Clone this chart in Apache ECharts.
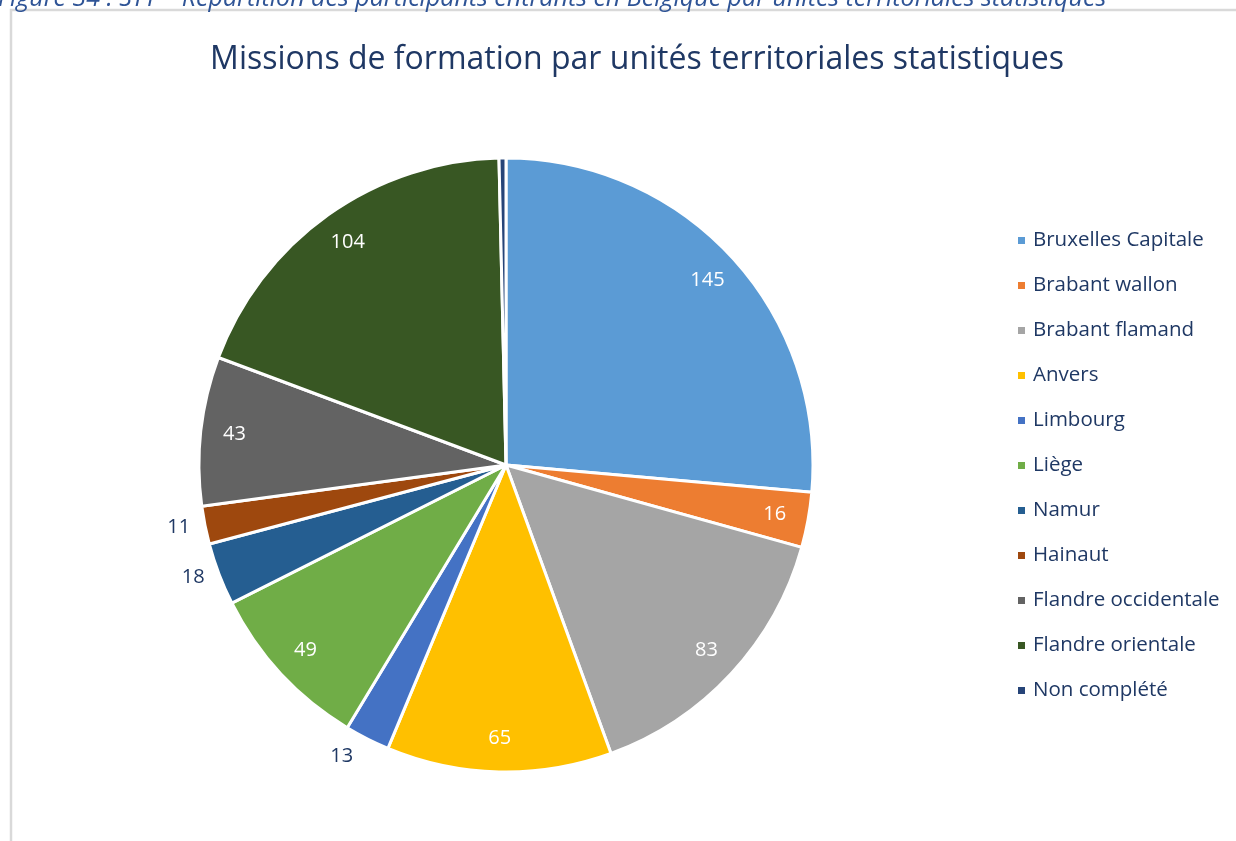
<!DOCTYPE html>
<html>
<head>
<meta charset="utf-8">
<title>Missions de formation par unités territoriales statistiques</title>
<script src="https://cdn.jsdelivr.net/npm/echarts@6/dist/echarts.min.js"></script>
<style>
  html, body { margin: 0; padding: 0; background: #fff; }
  #main { width: 1236px; height: 841px; }
</style>
</head>
<body>
<div id="main"></div>
<script>
// données
const categories = ['Bruxelles Capitale', 'Brabant wallon', 'Brabant flamand', 'Anvers', 'Limbourg',
  'Liège', 'Namur', 'Hainaut', 'Flandre occidentale', 'Flandre orientale', 'Non complété']
const values = [145, 16, 83, 65, 13, 49, 18, 11, 43, 104, 2]
// étiquettes affichées hors du secteur / masquées
const outsideNames = ['Limbourg', 'Namur', 'Hainaut']
const hiddenNames = ['Non complété']

const palette = ['#5B9BD5', '#ED7D31', '#A5A5A5', '#FFC000', '#4472C4', '#70AD47',
  '#255E91', '#9E480E', '#636363', '#385723', '#264478']

const FONT = '"Open Sans", "Noto Sans", sans-serif'
const NAVY = '#1F3864'
const R = 307
const CENTER = [506, 465]

const chart = echarts.init(document.getElementById('main'))

// série principale : secteurs + étiquettes extérieures
const mainData = categories.map((name, i) => {
  const outside = outsideNames.includes(name)
  return {
    name: name,
    value: values[i],
    label: {
      show: outside,
      position: 'outside',
      formatter: '{c}',
      color: NAVY,
      fontSize: 20,
      fontFamily: FONT
    },
    labelLine: { show: false, length: name === 'Limbourg' ? 20 : 10, length2: 0 }
  }
})

// série transparente pour placer les étiquettes intérieures près du bord
const labelData = categories.map((name, i) => ({
  name: name,
  value: values[i],
  label: { show: !outsideNames.includes(name) && !hiddenNames.includes(name) }
}))

const option = {
  color: palette,
  animation: false,
  title: {
    text: 'Missions de formation par unités territoriales statistiques',
    left: 632,
    textAlign: 'center',
    top: 39,
    textStyle: {
      color: NAVY,
      fontSize: 32,
      fontWeight: 'normal',
      fontFamily: FONT
    }
  },
  legend: {
    orient: 'vertical',
    left: 1011,
    top: 225,
    itemWidth: 9,
    itemHeight: 9,
    itemGap: 24,
    icon: 'rect',
    data: categories,
    textStyle: {
      color: NAVY,
      fontSize: 20.5,
      fontFamily: FONT,
      padding: [0, 0, 0, 2]
    }
  },
  graphic: [
    {
      type: 'rect',
      silent: true,
      shape: { x: 11, y: 10, width: 1240, height: 850 },
      style: { fill: null, stroke: '#D9D9D9', lineWidth: 2.5 }
    },
    {
      type: 'text',
      silent: true,
      style: {
        text: 'Figure 34 : STT – Répartition des participants entrants en Belgique par unités territoriales statistiques',
        x: -2,
        y: 11,
        verticalAlign: 'bottom',
        fill: '#2F5496',
        font: 'italic 25px "Open Sans", sans-serif'
      }
    }
  ],
  series: [
    {
      name: 'Missions',
      type: 'pie',
      center: CENTER,
      radius: R,
      startAngle: 90,
      clockwise: true,
      avoidLabelOverlap: false,
      silent: true,
      itemStyle: { borderColor: '#fff', borderWidth: 3 },
      data: mainData
    },
    {
      name: 'Étiquettes',
      type: 'pie',
      center: CENTER,
      radius: [R * 0.78, R * 0.98],
      startAngle: 90,
      clockwise: true,
      silent: true,
      itemStyle: { color: 'rgba(0,0,0,0)' },
      label: {
        position: 'inside',
        formatter: '{c}',
        color: '#fff',
        fontSize: 20,
        fontFamily: FONT
      },
      labelLine: { show: false },
      data: labelData
    }
  ]
}

chart.setOption(option)
</script>
</body>
</html>
